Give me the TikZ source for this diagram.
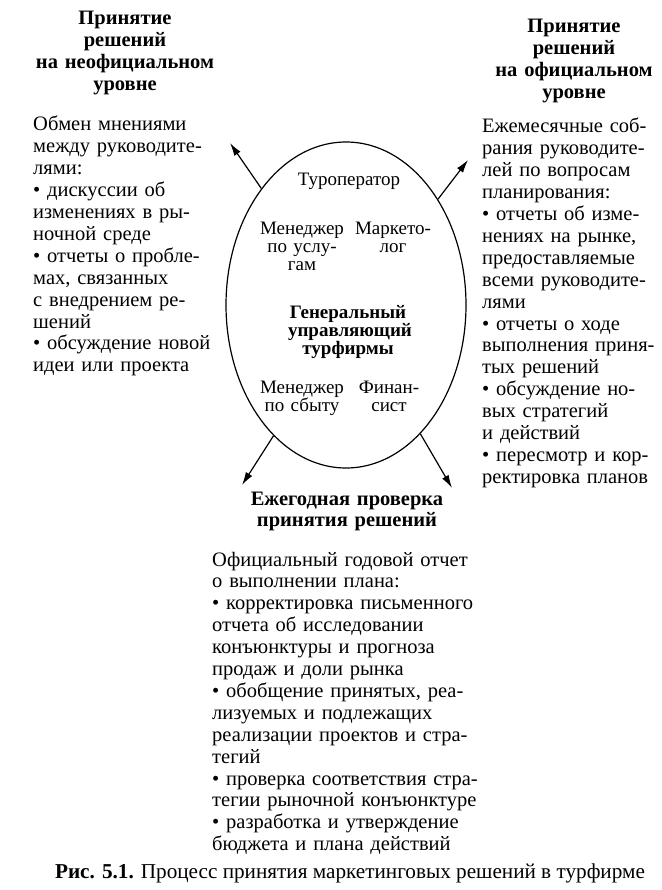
\documentclass[tikz,border=0pt]{standalone}
\usepackage{fontspec}
\setmainfont{Liberation Serif}
\usetikzlibrary{shapes.geometric,arrows.meta}
\newcommand\myBody{\fontsize{20.5}{21.9}\selectfont}
\newcommand\myHead{\fontsize{20.5}{21.7}\selectfont\bfseries}
\newcommand\myInner{\fontsize{19}{18}\selectfont}
\newcommand\myCap{\fontsize{21.2}{22}\selectfont}
\begin{document}
\begin{tikzpicture}[x=1pt,y=-1pt,
  bodytext/.style={anchor=base west,inner sep=0pt,text width=300pt,align=left,font=\myBody},
  headtext/.style={anchor=base,inner sep=0pt,text width=240pt,align=center,font=\myHead},
  innertext/.style={anchor=base,inner sep=0pt,text width=120pt,align=center,font=\myInner},
  conn/.style={line width=1.2pt,-{Latex[length=13pt,width=7.5pt]}}]
\useasboundingbox[fill=white] (0,0) rectangle (661,890);

% central ellipse
\node[ellipse,draw,line width=1.2pt,minimum width=240pt,minimum height=326pt,inner sep=0pt] (ell) at (346,305) {};

% inner labels
\node[innertext] (tour) at (349,186) {Туроператор};
\node[innertext] (mserv) at (302,235) {Менеджер\\по услу-\\гам};
\node[innertext] (mark) at (393,235) {Маркето-\\лог};
\node[innertext,font=\myInner\bfseries] (gen) at (348,318) {Генеральный\\управляющий\\турфирмы};
\node[innertext] (msale) at (302,393) {Менеджер\\по сбыту};
\node[innertext] (fin) at (389,393) {Финан-\\сист};

% arrow ends
\coordinate (tipUL) at (230,143);
\coordinate (tipUR) at (468,160);
\coordinate (tipLL) at (242,485);
\coordinate (tipLR) at (452,488);
\draw[conn] (ell.126.7) -- (tipUL);
\draw[conn] (ell.49) -- (tipUR);
\draw[conn] (ell.241) -- (tipLL);
\draw[conn] (ell.300) -- (tipLR);

% headings
\node[headtext] (hleft) at (125,25) {Принятие\\решений\\на неофициальном\\уровне};
\node[headtext] (hright) at (574,33) {Принятие\\решений\\на официальном\\уровне};
\node[headtext] (hbottom) at (347,505) {Ежегодная проверка\\принятия решений};

% bodies
\node[bodytext] (bleft) at (33,131) {Обмен мнениями\\между руководите-\\лями:\\• дискуссии об\\изменениях в ры-\\ночной среде\\• отчеты о пробле-\\мах, связанных\\с внедрением ре-\\шений\\• обсуждение новой\\идеи или проекта};
\node[bodytext] (bright) at (482,133) {Ежемесячные соб-\\рания руководите-\\лей по вопросам\\планирования:\\• отчеты об изме-\\нениях на рынке,\\предоставляемые\\всеми руководите-\\лями\\• отчеты о ходе\\выполнения приня-\\тых решений\\• обсуждение но-\\вых стратегий\\и действий\\• пересмотр и кор-\\ректировка планов};
\node[bodytext] (bbottom) at (212,566) {Официальный годовой отчет\\о выполнении плана:\\• корректировка письменного\\отчета об исследовании\\конъюнктуры и прогноза\\продаж и доли рынка\\• обобщение принятых, реа-\\лизуемых и подлежащих\\реализации проектов и стра-\\тегий\\• проверка соответствия стра-\\тегии рыночной конъюнктуре\\• разработка и утверждение\\бюджета и плана действий};

% caption
\node[anchor=base,inner sep=0pt,font=\myCap] (cap) at (350,878) {\textbf{Рис. 5.1.} Процесс принятия маркетинговых решений в турфирме};
\end{tikzpicture}
\end{document}
